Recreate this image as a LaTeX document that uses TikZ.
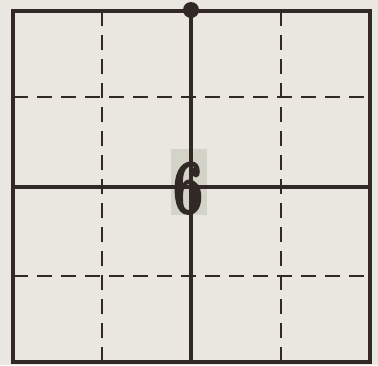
\documentclass[tikz,border=0pt]{standalone}
\usepackage{fontspec}
\newfontfamily\digitfont{Latin Modern Roman}[FakeBold=2.5]
\usepackage{graphicx}
\usepackage{tikz}
\usetikzlibrary{positioning,calc}
\usepackage{xcolor}
\definecolor{paper}{RGB}{233,231,223}
\definecolor{ink}{RGB}{50,40,38}
\definecolor{boxgray}{RGB}{212,211,199}
\tikzset{
  gridframe/.style={draw=ink, line width=3pt, line cap=rect},
  gridaxis/.style={draw=ink, line width=2.5pt},
  gridguide/.style={draw=ink, line width=1.5pt, dash pattern=on 11pt off 7pt},
  gridbox/.style={fill=boxgray, inner sep=0pt, minimum width=27pt, minimum height=49.5pt},
  griddigit/.style={inner sep=0pt, text=ink, font=\digitfont\bfseries\fontsize{58}{58}\selectfont},
  griddot/.style={circle, fill=ink, inner sep=0pt, minimum size=12pt},
}

\begin{document}
\begin{tikzpicture}[x=0.75pt, y=-0.75pt]
  \fill[paper] (0,0) rectangle (378,365);
  \useasboundingbox (0,0) rectangle (378,365);

  % corners of the square
  \coordinate (nw) at (13,11);
  \coordinate (se) at (370,362);
  \coordinate (ctr) at (191,187);

  \node[gridbox] (six) at (189,182) {};

  % quarter guides
  \foreach \gx in {102,281}
    \draw[gridguide] (\gx,11) -- (\gx,362);
  \foreach \gy in {97,276}
    \draw[gridguide] (13,\gy) -- (370,\gy);

  % centre lines
  \draw[gridaxis] (ctr |- nw) -- (ctr |- se);
  \draw[gridaxis] (ctr -| nw) -- (ctr -| se);

  \draw[gridframe] (nw) rectangle (se);

  \node[griddigit, anchor=south] (sixtext) at ($(six.south)+(-1,-1)$)
    {\scalebox{0.7}[1]{6}};
  \node[griddot] (top) at ($(ctr |- nw)+(0,-1)$) {};
\end{tikzpicture}
\end{document}
